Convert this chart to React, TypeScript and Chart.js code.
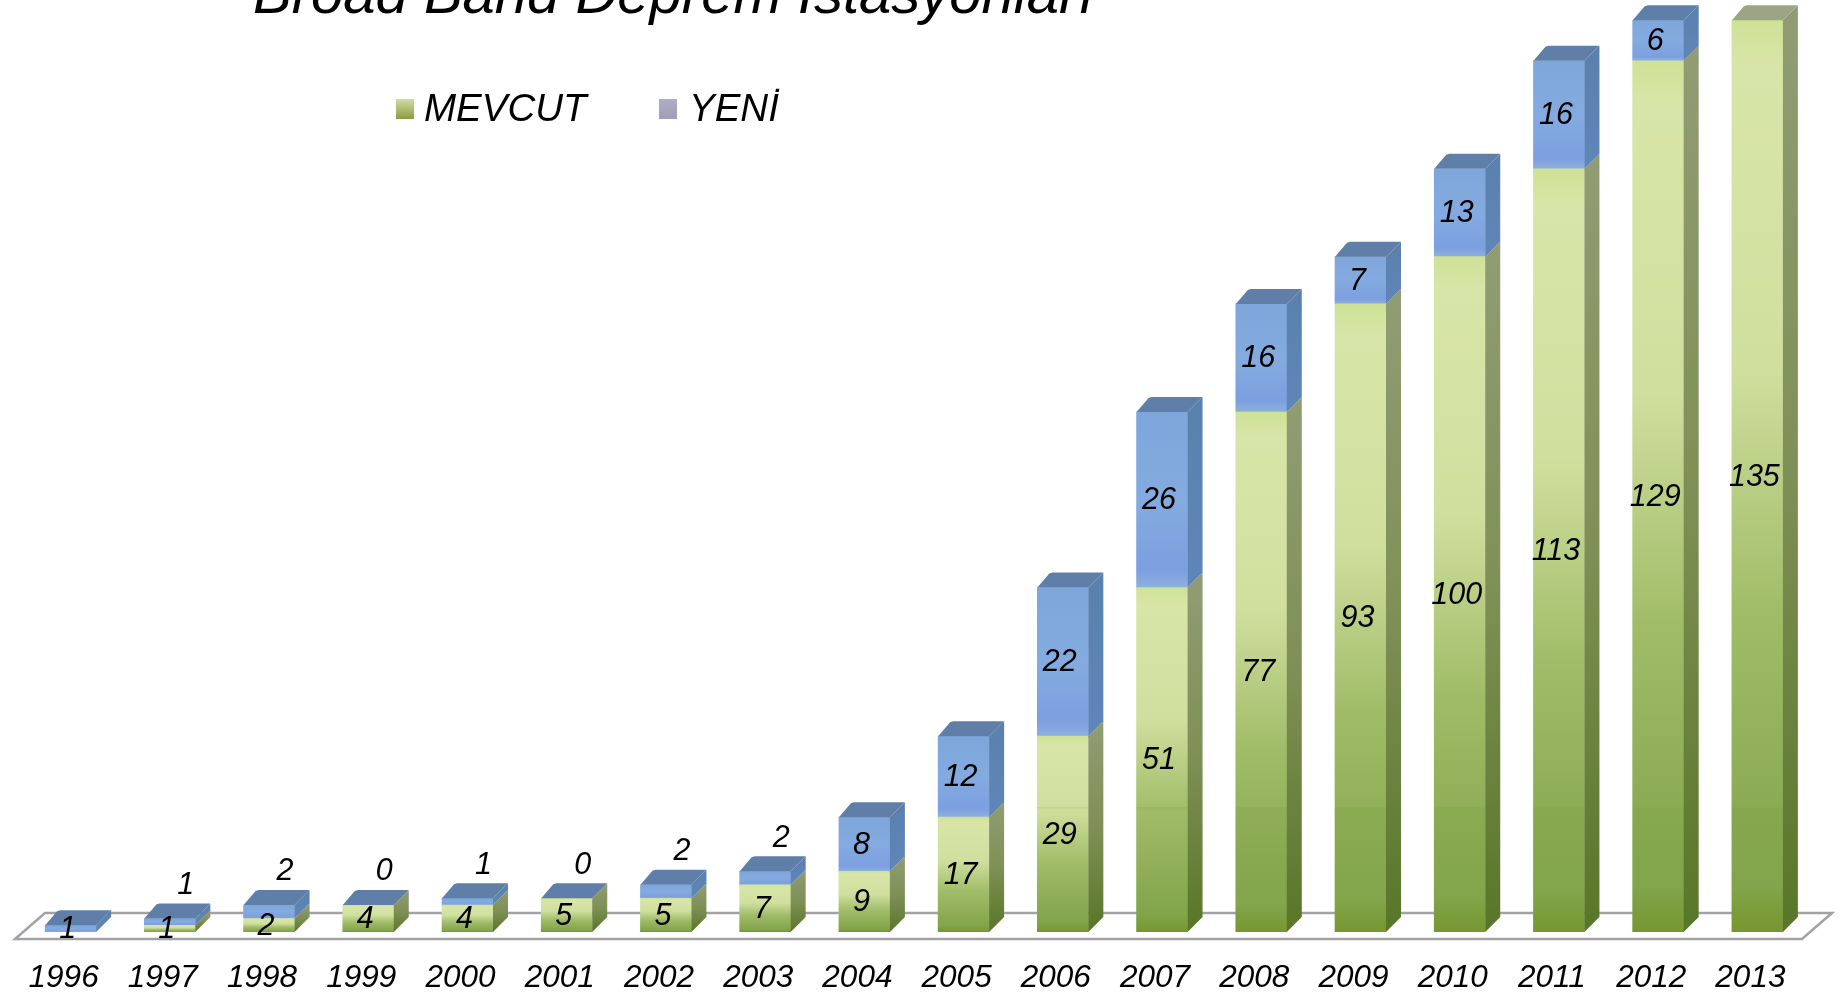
import React, { useEffect, useRef } from "react";
import { Chart, registerables } from "chart.js";

Chart.register(...registerables);

const years = ["1996","1997","1998","1999","2000","2001","2002","2003","2004","2005","2006","2007","2008","2009","2010","2011","2012","2013"];
const mevcut = [0,1,2,4,4,5,5,7,9,17,29,51,77,93,100,113,129,135];
const yeni: (number | null)[] = [1,1,2,0,1,0,2,2,8,12,22,26,16,7,13,16,6,null];
const titleText = "Broad Band Deprem İstasyonları";
const FONT = '"Liberation Sans", Arial, sans-serif';
const DEPTH = 15;
const BAND_Y = 807;

type RGB = [number, number, number];
const mix = (a: RGB, b: RGB, t: number): RGB => [0, 1, 2].map((i) => a[i] + (b[i] - a[i]) * t) as RGB;
const css = (c: RGB) => `rgb(${c.map((v) => Math.round(v)).join(",")})`;

const greenStops: [number, RGB][] = [
  [0, [206, 226, 150]],
  [0.05, [216, 229, 168]],
  [0.38, [208, 223, 158]],
  [0.65, [160, 188, 104]],
  [0.95, [130, 164, 74]],
  [1, [118, 150, 48]],
];
function greenAt(t: number): RGB {
  for (let i = 1; i < greenStops.length; i++) {
    if (t <= greenStops[i][0]) {
      const [t0, c0] = greenStops[i - 1];
      const [t1, c1] = greenStops[i];
      return mix(c0, c1, (t - t0) / (t1 - t0));
    }
  }
  return greenStops[greenStops.length - 1][1];
}

function greenFront(ctx: CanvasRenderingContext2D, top: number, base: number) {
  const g = ctx.createLinearGradient(0, top, 0, base);
  greenStops.forEach(([t, c]) => g.addColorStop(t, css(c)));
  if (top < BAND_Y && base > BAND_Y) {
    const t = (BAND_Y - top) / (base - top);
    const c = greenAt(t);
    g.addColorStop(t, css(c));
    g.addColorStop(Math.min(1, t + 0.001), css(mix(c, [110, 145, 50], 0.14)));
  }
  return g;
}

function blueFront(ctx: CanvasRenderingContext2D, top: number, base: number) {
  const g = ctx.createLinearGradient(0, top, 0, base);
  g.addColorStop(0, "#7fa6da");
  g.addColorStop(0.5, "#84abdf");
  g.addColorStop(0.9, "#7c9fe0");
  g.addColorStop(1, "#8fb0dc");
  return g;
}

const solid3d = {
  id: "solid3d",
  beforeDatasetsDraw(chart: any) {
    const { ctx, chartArea } = chart;
    const front = chartArea.bottom + 7;
    const back = chartArea.bottom - 19;
    ctx.save();
    ctx.strokeStyle = "#a2a2a6";
    ctx.lineWidth = 2.5;
    ctx.beginPath();
    ctx.moveTo(chartArea.left + 24, back);
    ctx.lineTo(chartArea.right + 25, back);
    ctx.lineTo(chartArea.right - 5, front);
    ctx.lineTo(chartArea.left - 6, front);
    ctx.closePath();
    ctx.stroke();
    ctx.restore();
  },
  afterDatasetsDraw(chart: any) {
    const { ctx } = chart;
    const greenBars = chart.getDatasetMeta(0).data;
    const blueBars = chart.getDatasetMeta(1).data;
    ctx.save();
    years.forEach((_, i) => {
      [greenBars[i], blueBars[i]].forEach((bar: any, s: number) => {
        if (!Number.isFinite(bar.y) || !Number.isFinite(bar.base)) return;
        if (Math.abs(bar.base - bar.y) < 0.5) return;
        const right = bar.x + bar.width / 2;
        const g = ctx.createLinearGradient(0, bar.y - DEPTH, 0, bar.base);
        if (s === 0) {
          g.addColorStop(0, "#919c74");
          g.addColorStop(0.5, "#7f9056");
          g.addColorStop(1, "#587628");
        } else {
          g.addColorStop(0, "#5a80ad");
          g.addColorStop(1, "#5f86b8");
        }
        ctx.fillStyle = g;
        ctx.beginPath();
        ctx.moveTo(right, bar.y);
        ctx.lineTo(right + DEPTH, bar.y - DEPTH);
        ctx.lineTo(right + DEPTH, bar.base - DEPTH);
        ctx.lineTo(right, bar.base);
        ctx.closePath();
        ctx.fill();
      });
      const hasNew = yeni[i] !== null;
      const topBar = hasNew ? blueBars[i] : greenBars[i];
      const left = topBar.x - topBar.width / 2;
      const right = topBar.x + topBar.width / 2;
      ctx.fillStyle = hasNew ? "#5f7fa8" : "#9aa583";
      ctx.beginPath();
      ctx.moveTo(left, topBar.y);
      ctx.lineTo(left + DEPTH - 3, topBar.y - DEPTH + 1);
      ctx.lineTo(left + DEPTH, topBar.y - DEPTH);
      ctx.lineTo(right + DEPTH, topBar.y - DEPTH);
      ctx.lineTo(right, topBar.y);
      ctx.closePath();
      ctx.fill();
    });

    ctx.fillStyle = "#000";
    ctx.textAlign = "center";
    ctx.textBaseline = "middle";
    ctx.font = `italic 30.5px ${FONT}`;
    years.forEach((_, i) => {
      const g = greenBars[i];
      const b = blueBars[i];
      if (mevcut[i] > 0) ctx.fillText(String(mevcut[i]), g.x - 3, (g.y + g.base) / 2 + 1);
      const v = yeni[i];
      if (v === null) return;
      const floating = v <= 2 && mevcut[i] > 0;
      if (floating) ctx.fillText(String(v), b.x + 16, b.y - 33);
      else ctx.fillText(String(v), b.x - 3, (b.y + b.base) / 2 + 1);
    });

    ctx.textAlign = "left";
    ctx.textBaseline = "alphabetic";
    ctx.font = `italic 58px ${FONT}`;
    ctx.fillText(titleText, 253, 13);

    const legendBoxes = [396, 659];
    chart.data.datasets.forEach((d: any, i: number) => {
      const x = legendBoxes[i];
      const g = ctx.createLinearGradient(0, 98, 0, 119);
      if (i === 0) {
        g.addColorStop(0, "#d4e0a8");
        g.addColorStop(1, "#8b9c42");
      } else {
        g.addColorStop(0, "#b0adc6");
        g.addColorStop(1, "#a09db8");
      }
      ctx.fillStyle = g;
      ctx.fillRect(x, 99, 18, 20);
      ctx.fillStyle = "#000";
      ctx.font = `italic 38.5px ${FONT}`;
      ctx.fillText(d.label, x + (i === 0 ? 28 : 30), 121);
    });
    ctx.restore();
  },
};

export default function App() {
  const ref = useRef<HTMLCanvasElement>(null);
  useEffect(() => {
    const chart = new Chart(ref.current!, {
      type: "bar",
      plugins: [solid3d],
      data: {
        labels: years,
        datasets: [
          {
            label: "MEVCUT",
            data: mevcut,
            backgroundColor: (c: any) => {
              const y = c.chart.scales.y;
              if (!y || c.raw == null) return "#9fbc60";
              const top = y.getPixelForValue(c.raw);
              const base = y.getPixelForValue(0);
              if (!Number.isFinite(top) || !Number.isFinite(base)) return "#9fbc60";
              return greenFront(c.chart.ctx, top, base);
            },
          },
          {
            label: "YENİ",
            data: yeni,
            backgroundColor: (c: any) => {
              const y = c.chart.scales.y;
              if (!y || c.raw == null) return "#7fa6da";
              const m = mevcut[c.dataIndex];
              const top = y.getPixelForValue(m + c.raw);
              const base = y.getPixelForValue(m);
              if (!Number.isFinite(top) || !Number.isFinite(base)) return "#7fa6da";
              return blueFront(c.chart.ctx, top, base);
            },
          },
        ] as any,
      },
      options: {
        responsive: false,
        animation: false,
        layout: { padding: { left: 21, right: 37, top: 0, bottom: 0 } },
        datasets: { bar: { barThickness: 51, borderWidth: 0 } },
        plugins: { legend: { display: false }, title: { display: false }, tooltip: { enabled: false } },
        scales: {
          x: {
            stacked: true,
            grid: { display: false, drawTicks: false },
            border: { display: false },
            afterFit: (s: any) => { s.height = 64; },
            ticks: {
              autoSkip: false,
              maxRotation: 0,
              minRotation: 0,
              padding: 27,
              labelOffset: -7,
              color: "#000",
              font: { family: FONT, size: 31.5, style: "italic" },
            },
          },
          y: { stacked: true, display: false, min: 0, max: 138 },
        },
      } as any,
    });
    return () => chart.destroy();
  }, []);
  return (
    <canvas
      ref={ref}
      width={1844}
      height={996}
      style={{ position: "absolute", left: 0, top: 0, display: "block", background: "#fff" }}
    />
  );
}
